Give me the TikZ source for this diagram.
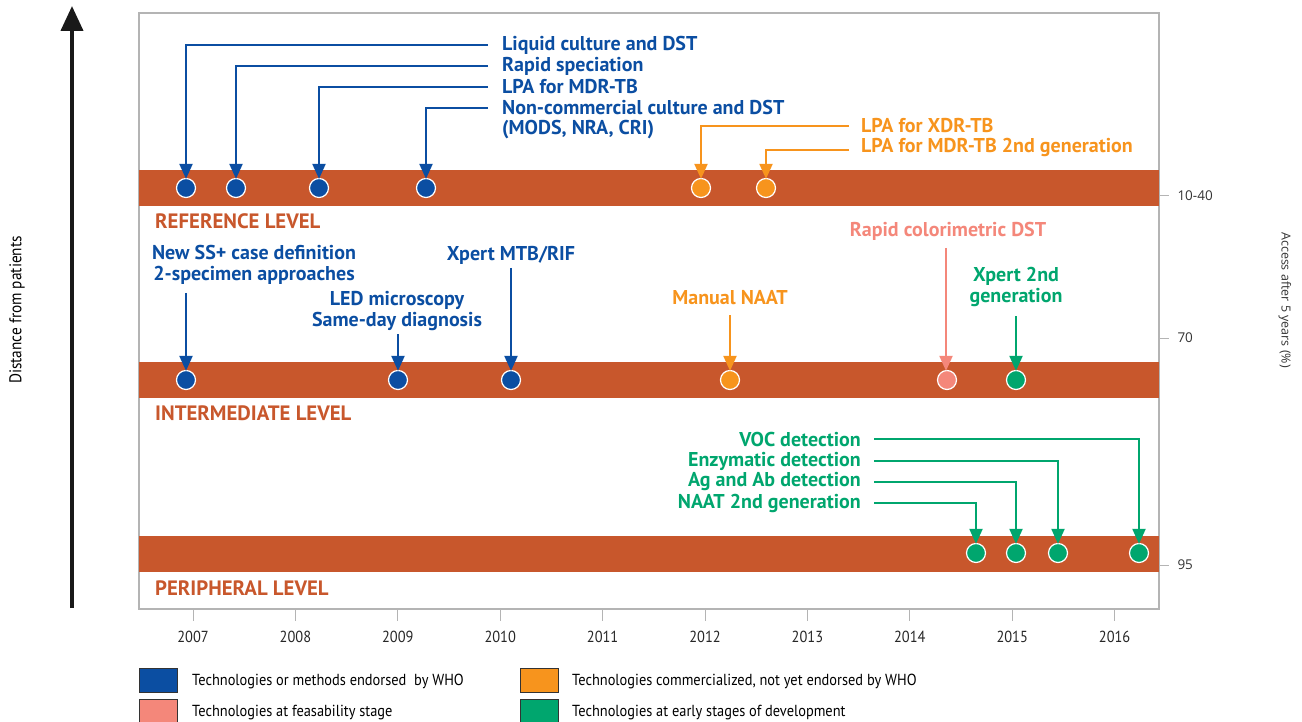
\documentclass[tikz,border=0pt]{standalone}
\usepackage{fontspec}
\setmainfont{PT Sans}
\newfontfamily\lblfont{PT Sans}
\newfontfamily\condfont[FakeStretch=0.9]{PT Sans}
\newfontfamily\axfont{Open Sans}
\usetikzlibrary{arrows.meta}
\definecolor{tbblue}{HTML}{0B4EA2}
\definecolor{tborange}{HTML}{F7941D}
\definecolor{tbpink}{HTML}{F4877A}
\definecolor{tbgreen}{HTML}{00A66E}
\definecolor{tbrust}{HTML}{C8572C}
\definecolor{tbgray}{HTML}{B4B4B4}
\tikzset{
  band/.style={fill=tbrust, draw=none},
  dot/.style={circle, draw=white, line width=1.2pt, minimum size=19pt, inner sep=0pt},
  lbl/.style={font=\lblfont\bfseries\fontsize{20}{21}\selectfont, inner sep=0pt, align=center},
  lvl/.style={font=\lblfont\bfseries\fontsize{20.8}{21}\selectfont, text=tbrust, anchor=west, inner sep=0pt},
  conn/.style={line width=2pt, -{Triangle[width=13pt,length=15pt]}},
  legbox/.style={draw=black!80, line width=0.8pt, minimum width=38pt, minimum height=24pt, inner sep=0pt},
  legtxt/.style={font=\condfont\fontsize{16}{18}\selectfont, anchor=west, inner sep=0pt},
  yr/.style={font=\condfont\fontsize{16}{18}\selectfont, text=black!85, inner sep=0pt},
  axlbl/.style={font=\axfont\fontsize{13.5}{15}\selectfont, text=black!80, inner sep=0pt},
}
\begin{document}
\begin{tikzpicture}[x=1pt,y=-1pt]
\useasboundingbox (0,0) rectangle (1302,722);
% frame
\draw[tbgray, line width=1.2pt] (139,13) rectangle (1159,609);
% bands
\fill[band] (139,170) rectangle (1159,206);
\fill[band] (139,362) rectangle (1159,398);
\fill[band] (139,536) rectangle (1159,572);
% level labels
\node[lvl] (lref) at (155,221) {REFERENCE LEVEL};
\node[lvl] (lint) at (155,413) {INTERMEDIATE LEVEL};
\node[lvl] (lper) at (155,588) {PERIPHERAL LEVEL};
% year ticks
\foreach \i/\y in {0/2007,1/2008,2/2009,3/2010,4/2011,5/2012,6/2013,7/2014,8/2015,9/2016}{
  \coordinate (t\y) at ({193+\i*102.4},609);
  \draw[tbgray, line width=1pt] (t\y) -- ++(0,12);
  \node[yr] (y\y) at ({193+\i*102.4},637) {\y};
}
% right axis ticks
\draw[tbgray, line width=1pt] (1159,196) -- (1169,196) node[axlbl, anchor=west, xshift=8pt] (r1) {10-40};
\draw[tbgray, line width=1pt] (1159,338) -- (1169,338) node[axlbl, anchor=west, xshift=8pt] (r2) {70};
\draw[tbgray, line width=1pt] (1159,565) -- (1169,565) node[axlbl, anchor=west, xshift=8pt] (r3) {95};
\node[axlbl, font=\axfont\fontsize{12.5}{14}\selectfont, rotate=-90] (acc) at (1285,300) {Access after 5 years (\%)};
% left arrow
\coordinate (la0) at (72,608);
\coordinate (la1) at (72,6);
\draw[line width=4pt, black!90, -{Triangle[width=22pt,length=25pt]}] (la0) -- (la1);
\node[font=\condfont\fontsize{17}{18}\selectfont, rotate=90, inner sep=0pt] (dist) at (17,310) {Distance from patients};
% ---------- reference level dots
\node[dot, fill=tbblue] (r07) at (186,188) {};
\node[dot, fill=tbblue] (r07b) at (236,188) {};
\node[dot, fill=tbblue] (r08) at (319,188) {};
\node[dot, fill=tbblue] (r09) at (426,188) {};
\node[dot, fill=tborange] (r12) at (701,188) {};
\node[dot, fill=tborange] (r12b) at (766,188) {};
% reference labels
\begin{scope}[every node/.append style={lbl, anchor=west, text=tbblue}]
\node (tliq) at (502,45) {Liquid culture and DST};
\node (trap) at (502,66) {Rapid speciation};
\node (tlpa) at (502,87) {LPA for MDR-TB};
\node (tnon) at (502,108) {Non-commercial culture and DST};
\node (tmods) at (502,130) {(MODS, NRA, CRI)};
\end{scope}
\node[lbl, anchor=west, text=tborange] (txdr) at (861,126) {LPA for XDR-TB};
\node[lbl, anchor=west, text=tborange] (tmdr2) at (861,147) {LPA for MDR-TB 2nd generation};
\draw[conn, tbblue] ([xshift=-14pt]tliq.west) -| ([yshift=-1pt]r07.north);
\draw[conn, tbblue] ([xshift=-14pt]trap.west) -| ([yshift=-1pt]r07b.north);
\draw[conn, tbblue] ([xshift=-14pt]tlpa.west) -| ([yshift=-1pt]r08.north);
\draw[conn, tbblue] ([xshift=-14pt]tnon.west) -| ([yshift=-1pt]r09.north);
\draw[conn, tborange] ([xshift=-12pt]txdr.west) -| ([yshift=-1pt]r12.north);
\draw[conn, tborange] ([xshift=-12pt,yshift=-3pt]tmdr2.west) -| ([yshift=-1pt]r12b.north);
% ---------- intermediate level dots
\node[dot, fill=tbblue] (i07) at (186,380) {};
\node[dot, fill=tbblue] (i09) at (398,380) {};
\node[dot, fill=tbblue] (i10) at (511,380) {};
\node[dot, fill=tborange] (i12) at (730,380) {};
\node[dot, fill=tbpink] (i14) at (947,380) {};
\node[dot, fill=tbgreen] (i15) at (1016,380) {};
% intermediate labels
\node[lbl, text=tbblue] (tss) at (254,265) {New SS+ case definition\\2-specimen approaches};
\node[lbl, text=tbblue] (txp) at (511,255) {Xpert MTB/RIF};
\node[lbl, text=tbblue] (tled) at (397,311) {LED microscopy\\Same-day diagnosis};
\node[lbl, text=tborange] (tman) at (730,298) {Manual NAAT};
\node[lbl, text=tbpink] (trc) at (948,231) {Rapid colorimetric DST};
\node[lbl, text=tbgreen] (tx2) at (1016,287) {Xpert 2nd\\generation};
\coordinate (css) at (186,293);
\coordinate (cxp) at (511,268);
\coordinate (cled) at (398,334);
\coordinate (cman) at (730,315);
\coordinate (crc) at (946,248);
\coordinate (cx2) at (1016,316);
\draw[conn, tbblue] (css) -- ([yshift=-1pt]i07.north);
\draw[conn, tbblue] (cxp) -- ([yshift=-1pt]i10.north);
\draw[conn, tbblue] (cled) -- ([yshift=-1pt]i09.north);
\draw[conn, tborange] (cman) -- ([yshift=-1pt]i12.north);
\draw[conn, tbpink] (crc) -- ([xshift=-1pt,yshift=-1pt]i14.north);
\draw[conn, tbgreen] (cx2) -- ([yshift=-1pt]i15.north);
% ---------- peripheral level dots
\node[dot, fill=tbgreen] (p1) at (976,553) {};
\node[dot, fill=tbgreen] (p2) at (1016,553) {};
\node[dot, fill=tbgreen] (p3) at (1058,553) {};
\node[dot, fill=tbgreen] (p4) at (1139,553) {};
\begin{scope}[every node/.append style={lbl, anchor=east, text=tbgreen}]
\node (tvoc) at (861,439) {VOC detection};
\node (tenz) at (861,461) {Enzymatic detection};
\node (tag) at (861,482) {Ag and Ab detection};
\node (tnaat) at (861,503) {NAAT 2nd generation};
\end{scope}
\draw[conn, tbgreen] ([xshift=13pt]tvoc.east) -| ([yshift=-1pt]p4.north);
\draw[conn, tbgreen] ([xshift=13pt]tenz.east) -| ([yshift=-1pt]p3.north);
\draw[conn, tbgreen] ([xshift=13pt]tag.east) -| ([yshift=-1pt]p2.north);
\draw[conn, tbgreen] ([xshift=13pt]tnaat.east) -| ([yshift=-1pt]p1.north);
% ---------- legend
\node[legbox, fill=tbblue] (lb1) at (158.5,680) {};
\node[legtxt] (lt1) at (192,681) {Technologies or methods endorsed\ \ by WHO};
\node[legbox, fill=tborange] (lb2) at (539,680) {};
\node[legtxt] (lt2) at (572,681) {Technologies commercialized, not yet endorsed by WHO};
\node[legbox, fill=tbpink] (lb3) at (158.5,711) {};
\node[legtxt] (lt3) at (192,713) {Technologies at feasability stage};
\node[legbox, fill=tbgreen] (lb4) at (539,711) {};
\node[legtxt] (lt4) at (572,713) {Technologies at early stages of development};
\end{tikzpicture}
\end{document}
